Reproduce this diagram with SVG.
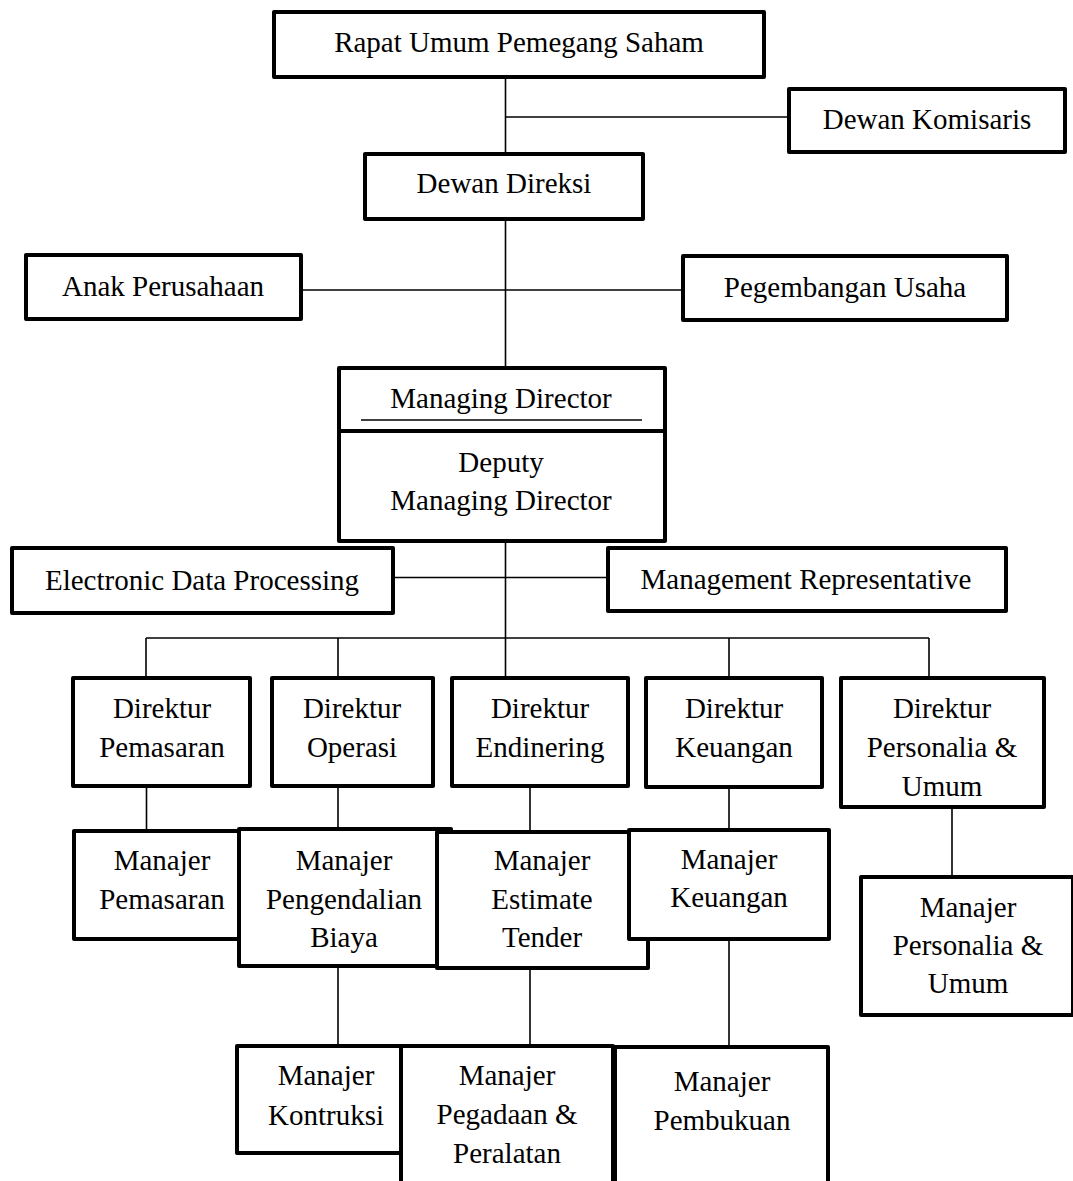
<svg xmlns="http://www.w3.org/2000/svg" width="1073" height="1181" viewBox="0 0 1073 1181">
  <style>
    .box { fill: #fff; stroke: #000; stroke-width: 4; stroke-linejoin: round; }
    .lbl { font-family: "Liberation Serif", "Times New Roman", serif; font-size: 29px; fill: #000; text-anchor: middle; }
    .wire { stroke: #000; stroke-width: 1.6; fill: none; }
  </style>
  <rect width="1073" height="1181" fill="#fff"/>

  <!-- connectors -->
  <g id="connectors" class="wire">
    <line x1="505.5" y1="79" x2="505.5" y2="152"/>
    <line x1="505.5" y1="117" x2="787" y2="117"/>
    <line x1="505.5" y1="221" x2="505.5" y2="366"/>
    <line x1="303" y1="290" x2="681" y2="290"/>
    <line x1="505.5" y1="543" x2="505.5" y2="676"/>
    <line x1="395" y1="577.5" x2="606" y2="577.5"/>
    <line x1="146" y1="638" x2="929" y2="638"/>
    <line x1="146" y1="638" x2="146" y2="676"/>
    <line x1="338" y1="638" x2="338" y2="676"/>
    <line x1="729" y1="638" x2="729" y2="676"/>
    <line x1="929" y1="638" x2="929" y2="676"/>
    <line x1="146.5" y1="788" x2="146.5" y2="829"/>
    <line x1="338" y1="788" x2="338" y2="827"/>
    <line x1="530" y1="788" x2="530" y2="830"/>
    <line x1="729" y1="789" x2="729" y2="828"/>
    <line x1="952" y1="809" x2="952" y2="875"/>
    <line x1="338" y1="968" x2="338" y2="1044"/>
    <line x1="530" y1="970" x2="530" y2="1044"/>
    <line x1="729" y1="941" x2="729" y2="1045"/>
  </g>

  <!-- top levels -->
  <g id="rups">
    <rect class="box" x="274" y="12" width="490" height="65"/>
    <text class="lbl" x="519" y="52">Rapat Umum Pemegang Saham</text>
  </g>
  <g id="komisaris">
    <rect class="box" x="789" y="89" width="276" height="63"/>
    <text class="lbl" x="927" y="129">Dewan Komisaris</text>
  </g>
  <g id="direksi">
    <rect class="box" x="365" y="154" width="278" height="65"/>
    <text class="lbl" x="504" y="193">Dewan Direksi</text>
  </g>
  <g id="anak-perusahaan">
    <rect class="box" x="26" y="255" width="275" height="64"/>
    <text class="lbl" x="163" y="296">Anak Perusahaan</text>
  </g>
  <g id="pengembangan">
    <rect class="box" x="683" y="256" width="324" height="64"/>
    <text class="lbl" x="845" y="297">Pegembangan Usaha</text>
  </g>
  <g id="managing-director">
    <rect class="box" x="339" y="368" width="326" height="173"/>
    <line x1="339" y1="431" x2="665" y2="431" stroke="#000" stroke-width="4"/>
    <line x1="361" y1="420" x2="642" y2="420" stroke="#000" stroke-width="1.6"/>
    <text class="lbl" x="501" y="408">Managing Director</text>
    <text class="lbl" x="501" y="472">Deputy</text>
    <text class="lbl" x="501" y="510">Managing Director</text>
  </g>
  <g id="edp">
    <rect class="box" x="12" y="548" width="381" height="65"/>
    <text class="lbl" x="202" y="590">Electronic Data Processing</text>
  </g>
  <g id="mgmt-rep">
    <rect class="box" x="608" y="548" width="398" height="63"/>
    <text class="lbl" x="806" y="589">Management Representative</text>
  </g>

  <!-- directors -->
  <g id="dir-pemasaran">
    <rect class="box" x="73" y="678" width="177" height="108"/>
    <text class="lbl" x="162" y="718">Direktur</text>
    <text class="lbl" x="162" y="757">Pemasaran</text>
  </g>
  <g id="dir-operasi">
    <rect class="box" x="272" y="678" width="161" height="108"/>
    <text class="lbl" x="352" y="718">Direktur</text>
    <text class="lbl" x="352" y="757">Operasi</text>
  </g>
  <g id="dir-endinering">
    <rect class="box" x="452" y="678" width="176" height="108"/>
    <text class="lbl" x="540" y="718">Direktur</text>
    <text class="lbl" x="540" y="757">Endinering</text>
  </g>
  <g id="dir-keuangan">
    <rect class="box" x="646" y="678" width="176" height="109"/>
    <text class="lbl" x="734" y="718">Direktur</text>
    <text class="lbl" x="734" y="757">Keuangan</text>
  </g>
  <g id="dir-personalia">
    <rect class="box" x="841" y="678" width="203" height="129"/>
    <text class="lbl" x="942" y="718">Direktur</text>
    <text class="lbl" x="942" y="757">Personalia &amp;</text>
    <text class="lbl" x="942" y="796">Umum</text>
  </g>

  <!-- managers -->
  <g id="man-pemasaran">
    <rect class="box" x="74" y="831" width="176" height="108"/>
    <text class="lbl" x="162" y="870">Manajer</text>
    <text class="lbl" x="162" y="909">Pemasaran</text>
  </g>
  <g id="man-pengendalian">
    <rect class="box" x="239" y="829" width="212" height="137"/>
    <text class="lbl" x="344" y="870">Manajer</text>
    <text class="lbl" x="344" y="909">Pengendalian</text>
    <text class="lbl" x="344" y="947">Biaya</text>
  </g>
  <g id="man-estimate">
    <rect class="box" x="437" y="832" width="211" height="136"/>
    <text class="lbl" x="542" y="870">Manajer</text>
    <text class="lbl" x="542" y="909">Estimate</text>
    <text class="lbl" x="542" y="947">Tender</text>
  </g>
  <g id="man-keuangan">
    <rect class="box" x="629" y="830" width="200" height="109"/>
    <text class="lbl" x="729" y="869">Manajer</text>
    <text class="lbl" x="729" y="907">Keuangan</text>
  </g>
  <g id="man-personalia">
    <rect class="box" x="861" y="877" width="212" height="138"/>
    <text class="lbl" x="968" y="917">Manajer</text>
    <text class="lbl" x="968" y="955">Personalia &amp;</text>
    <text class="lbl" x="968" y="993">Umum</text>
  </g>

  <!-- bottom managers -->
  <g id="man-kontruksi">
    <rect class="box" x="237" y="1046" width="176" height="107"/>
    <text class="lbl" x="326" y="1085">Manajer</text>
    <text class="lbl" x="326" y="1125">Kontruksi</text>
  </g>
  <g id="man-pegadaan">
    <rect class="box" x="401" y="1046" width="212" height="150"/>
    <text class="lbl" x="507" y="1085">Manajer</text>
    <text class="lbl" x="507" y="1124">Pegadaan &amp;</text>
    <text class="lbl" x="507" y="1163">Peralatan</text>
  </g>
  <g id="man-pembukuan">
    <rect class="box" x="615" y="1047" width="213" height="150"/>
    <text class="lbl" x="722" y="1091">Manajer</text>
    <text class="lbl" x="722" y="1130">Pembukuan</text>
  </g>
</svg>
